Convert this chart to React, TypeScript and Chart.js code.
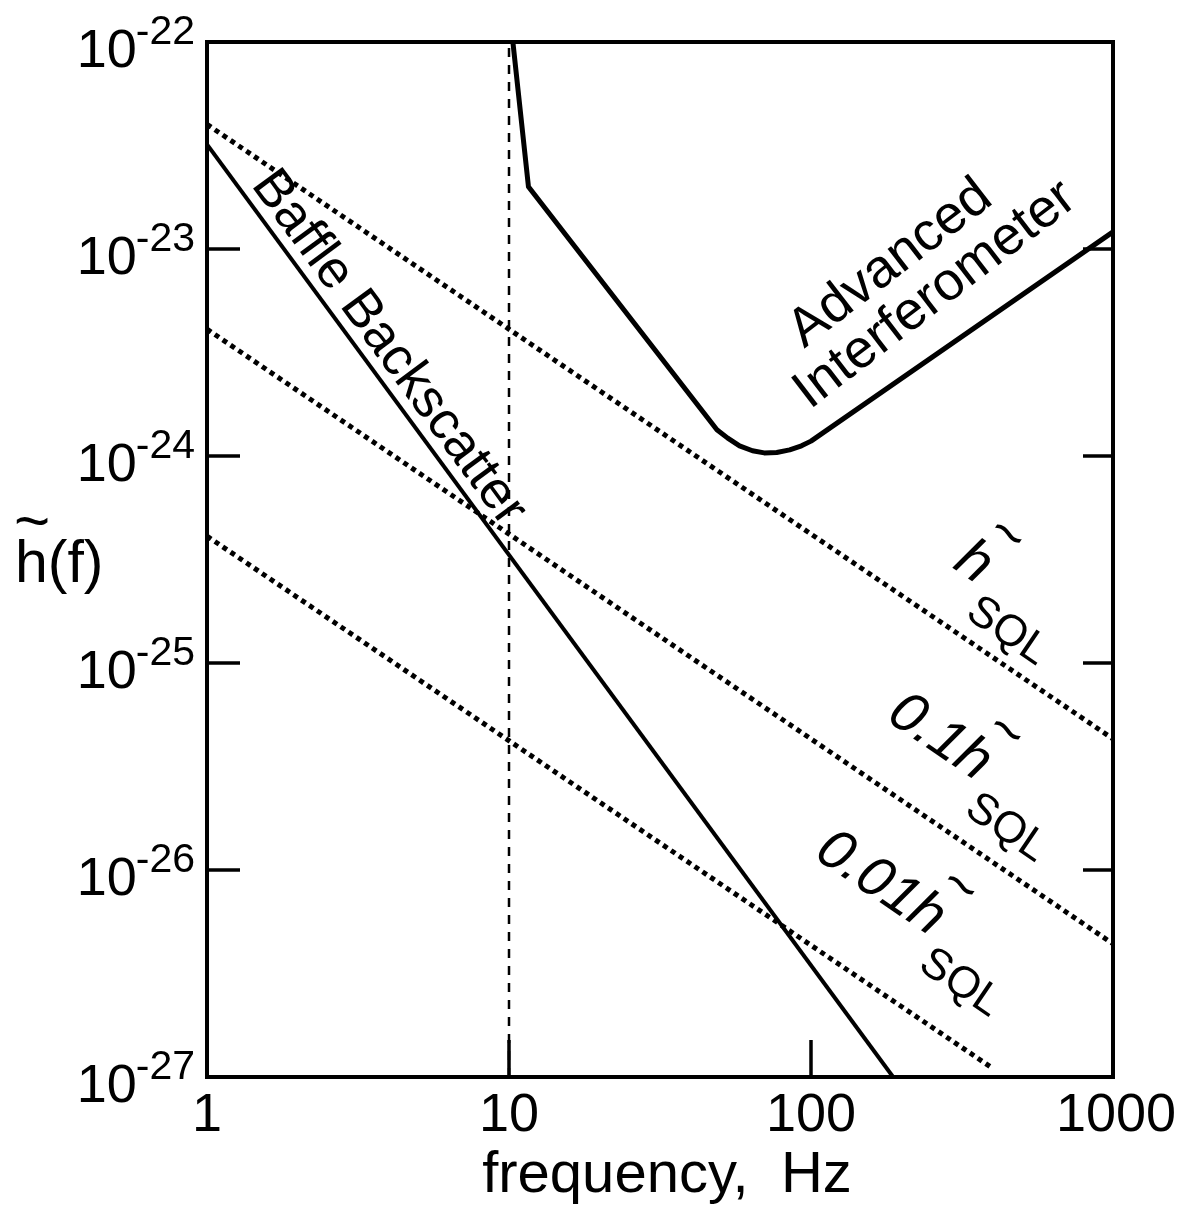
import { useEffect, useRef } from "react";
import { Chart, registerables } from "chart.js";

Chart.register(...registerables);

// ---- axis ticks ----
const xTickValues = [1, 10, 100, 1000];
const xTickLabels = ["1", "10", "100", "1000"];
const yTickExponents = [-22, -23, -24, -25, -26, -27];

// ---- series (frequency in Hz, strain h(f)) ----
const advFreq = [10.3, 11.6, 48.8, 53, 58, 64, 70, 77, 85, 93, 100, 1000];
const advH = [1.0e-22, 2.0e-23, 1.34e-24, 1.22e-24, 1.12e-24, 1.06e-24, 1.035e-24, 1.04e-24, 1.07e-24, 1.12e-24, 1.18e-24, 1.21e-23];

const baffleFreq = [1, 187];
const baffleH = [3.2e-23, 1.0e-27];

const sqlFreq = [1, 1000];
const sqlH = [4.0e-23, 4.3e-26];

const sql01Freq = [1, 1000];
const sql01H = [4.1e-24, 4.4e-27];

const sql001Freq = [1, 400];
const sql001H = [4.1e-25, 1.1e-27];

const markerFreq = [10, 10];
const markerH = [1e-27, 1e-22];

const FONT = '"Liberation Sans", Arial, Helvetica, sans-serif';

const pts = (f: number[], h: number[]) => f.map((v, i) => ({ x: v, y: h[i] }));

// label anchors in data coordinates (frequency, strain)
const labelAnchors = {
  baffle: { f: 1.394, h: 2.04e-23 },
  advanced: { f: 95, h: 3.3e-24 },
  interferometer: { f: 99, h: 1.67e-24 },
  sql: { f: 292, h: 2.9e-25 },
  sql01: { f: 290, h: 3.25e-26 },
  sql001: { f: 204, h: 5.8e-27 },
};

function centeredText(ctx: CanvasRenderingContext2D, text: string, x: number, y: number) {
  ctx.textAlign = "left";
  ctx.textBaseline = "alphabetic";
  const m = ctx.measureText(text);
  const w = m.actualBoundingBoxRight + m.actualBoundingBoxLeft;
  const hgt = m.actualBoundingBoxAscent + m.actualBoundingBoxDescent;
  ctx.fillText(text, x - w / 2 + m.actualBoundingBoxLeft, y + hgt / 2 - m.actualBoundingBoxDescent);
}

const decor = {
  id: "decor",
  afterDraw(chart: any) {
    const { ctx, chartArea: a, scales } = chart;
    const xs = scales.x;
    const ys = scales.y;
    const X = (f: number) => xs.getPixelForValue(f);
    const Y = (h: number) => ys.getPixelForValue(h);
    ctx.save();
    ctx.strokeStyle = "#000";
    ctx.fillStyle = "#000";

    // frame
    ctx.lineWidth = 4;
    ctx.strokeRect(a.left, a.top, a.right - a.left, a.bottom - a.top);

    const seg = (x1: number, y1: number, x2: number, y2: number) => {
      ctx.beginPath();
      ctx.moveTo(x1, y1);
      ctx.lineTo(x2, y2);
      ctx.stroke();
    };

    // ticks
    ctx.lineWidth = 3.5;
    yTickExponents.forEach((e, i) => {
      if (i === 0 || i === yTickExponents.length - 1) return;
      const py = Y(Math.pow(10, e));
      seg(a.left, py, a.left + 33, py);
      seg(a.right - 30, py, a.right, py);
    });
    xTickValues.forEach((v, i) => {
      if (i === 0 || i === xTickValues.length - 1) return;
      const px = X(v);
      seg(px, a.bottom, px, a.bottom - 37);
    });

    // y tick labels 10^e
    yTickExponents.forEach((e) => {
      const py = Y(Math.pow(10, e));
      const right = a.left - 12;
      ctx.textBaseline = "alphabetic";
      ctx.font = `41px ${FONT}`;
      const expStr = String(e);
      const ew = ctx.measureText(expStr).width;
      ctx.textAlign = "left";
      ctx.fillText(expStr, right - ew, py + 2);
      ctx.font = `54px ${FONT}`;
      ctx.textAlign = "right";
      ctx.fillText("10", right - ew + 1, py + 25);
    });

    // x tick labels
    ctx.font = `54px ${FONT}`;
    ctx.textAlign = "center";
    ctx.textBaseline = "alphabetic";
    xTickValues.forEach((v, i) => {
      ctx.fillText(xTickLabels[i], X(v) + (i === 3 ? 3 : 0), a.bottom + 54);
    });

    // x title
    ctx.font = `58px ${FONT}`;
    ctx.textAlign = "center";
    ctx.fillText("frequency,  Hz", (a.left + a.right) / 2 + 7, a.bottom + 115);

    // y title  h~(f)
    ctx.font = `59px ${FONT}`;
    ctx.textAlign = "left";
    ctx.fillText("h(f)", 15, 582);
    ctx.font = `62px ${FONT}`;
    centeredText(ctx, "~", 32, 521);

    // Baffle Backscatter label
    const bAng = Math.atan2(Y(baffleH[1]) - Y(baffleH[0]), X(baffleFreq[1]) - X(baffleFreq[0]));
    ctx.save();
    ctx.translate(X(labelAnchors.baffle.f), Y(labelAnchors.baffle.h));
    ctx.rotate(bAng);
    ctx.font = `53px ${FONT}`;
    ctx.textAlign = "left";
    ctx.textBaseline = "alphabetic";
    ctx.fillText("Baffle Backscatter", 0, 0);
    ctx.restore();

    // Advanced Interferometer label
    const aAng = (-37.5 * Math.PI) / 180;
    [
      ["Advanced", labelAnchors.advanced],
      ["Interferometer", labelAnchors.interferometer],
    ].forEach(([txt, p]: any) => {
      ctx.save();
      ctx.translate(X(p.f), Y(p.h));
      ctx.rotate(aAng);
      ctx.font = `54px ${FONT}`;
      ctx.textAlign = "left";
      ctx.textBaseline = "alphabetic";
      ctx.fillText(txt, 0, 0);
      ctx.restore();
    });

    // SQL labels
    const sAng = Math.atan2(Y(sqlH[1]) - Y(sqlH[0]), X(sqlFreq[1]) - X(sqlFreq[0]));
    const sqlLabel = (p: { f: number; h: number }, prefix: string) => {
      ctx.save();
      ctx.translate(X(p.f), Y(p.h));
      ctx.rotate(sAng);
      ctx.textBaseline = "alphabetic";
      ctx.font = `italic 57px ${FONT}`;
      if (prefix) {
        ctx.textAlign = "right";
        ctx.fillText(prefix, 0, 0);
      }
      ctx.textAlign = "left";
      ctx.fillText("h", 0, 0);
      ctx.font = `58px ${FONT}`;
      centeredText(ctx, "~", 28, -60);
      ctx.font = `44px ${FONT}`;
      ctx.textAlign = "left";
      ctx.fillText("SQL", 38, 34);
      ctx.restore();
    };
    sqlLabel(labelAnchors.sql, "");
    sqlLabel(labelAnchors.sql01, "0.1");
    sqlLabel(labelAnchors.sql001, "0.01");

    ctx.restore();
  },
};

export default function App() {
  const ref = useRef<HTMLCanvasElement>(null);
  useEffect(() => {
    const dotted = { borderColor: "#000", borderWidth: 5, borderDash: [5, 4.5], pointRadius: 0, fill: false, tension: 0 };
    const chart = new Chart(ref.current as HTMLCanvasElement, {
      type: "line",
      data: {
        datasets: [
          { label: "Advanced Interferometer", data: pts(advFreq, advH), borderColor: "#000", borderWidth: 5, pointRadius: 0, fill: false, tension: 0, borderJoinStyle: "round" } as any,
          { label: "Baffle Backscatter", data: pts(baffleFreq, baffleH), borderColor: "#000", borderWidth: 4, pointRadius: 0, fill: false, tension: 0 } as any,
          { label: "h_SQL", data: pts(sqlFreq, sqlH), ...dotted } as any,
          { label: "0.1 h_SQL", data: pts(sql01Freq, sql01H), ...dotted } as any,
          { label: "0.01 h_SQL", data: pts(sql001Freq, sql001H), ...dotted } as any,
          { label: "10 Hz", data: pts(markerFreq, markerH), borderColor: "#000", borderWidth: 2.5, borderDash: [9, 8], pointRadius: 0, fill: false } as any,
        ],
      },
      options: {
        responsive: false,
        animation: false,
        devicePixelRatio: 1,
        layout: { padding: { left: 207, right: 70, top: 42, bottom: 131 } },
        plugins: { legend: { display: false }, tooltip: { enabled: false } },
        scales: {
          x: { type: "logarithmic", min: 1, max: 1000, display: false },
          y: { type: "logarithmic", min: 1e-27, max: 1e-22, display: false },
        },
      } as any,
      plugins: [decor],
    });
    return () => chart.destroy();
  }, []);
  return (
    <canvas
      ref={ref}
      width={1183}
      height={1208}
      style={{ position: "fixed", left: 0, top: 0, width: 1183, height: 1208, background: "#fff" }}
    />
  );
}
